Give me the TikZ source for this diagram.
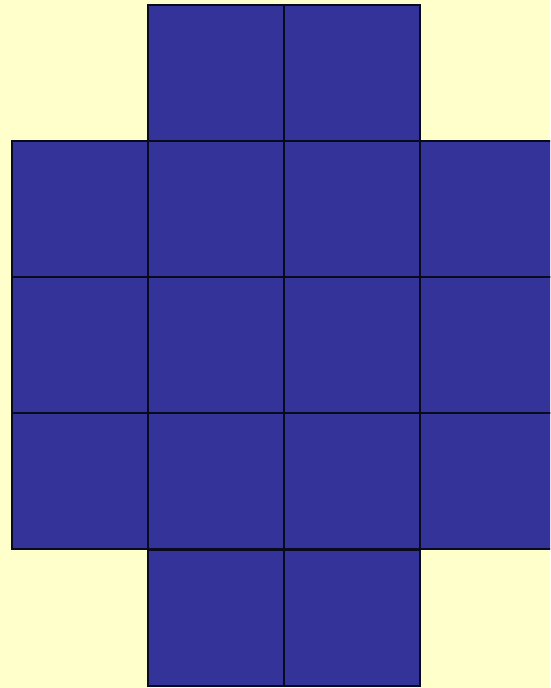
\documentclass[tikz,border=0pt]{standalone}
\usepackage{xcolor}
\usepackage{tikz}
\definecolor{paper}{HTML}{FFFFCC}
\definecolor{tile}{HTML}{333399}
\definecolor{edge}{HTML}{0A0A1E}

\begin{document}
\begin{tikzpicture}[
    x=0.02cm, y=-0.02cm,
    cell/.style={
        rectangle, draw=edge, fill=tile,
        line width=1.4pt, inner sep=0pt,
        minimum width=2.73cm, minimum height=2.72cm,
    },
]

% ── Page and clip ──────────────────────────────────────────────────────────
\fill[paper] (0,0) rectangle (550,688);
\useasboundingbox (0,0) rectangle (550,688);
\clip (0,0) rectangle (550,688);

% ── Middle band: three rows of four ────────────────────────────────────────
\foreach \r/\y in {2/209, 3/345, 4/481} {
    \foreach \c/\x in {1/80, 2/216, 3/352, 4/488} {
        \node[cell] (c\r\c) at (\x,\y) {};
    }
}

% ── Top and bottom rows: two in the middle ────────────────────────────────
\foreach \c/\x in {2/216, 3/352} {
    \node[cell] (c1\c) at (\x,73) {};
    \node[cell] (c5\c) at (\x,618) {};
}

\end{tikzpicture}
\end{document}
